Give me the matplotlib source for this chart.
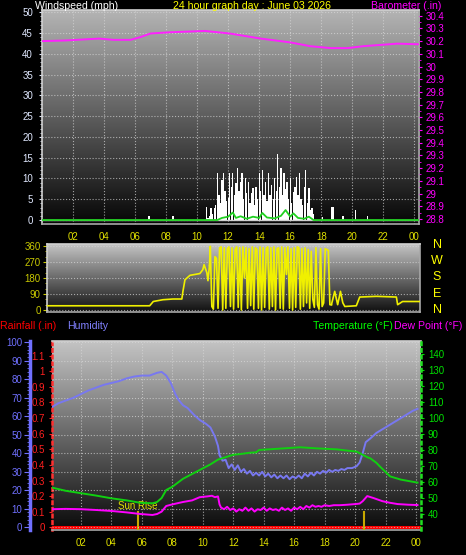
import matplotlib
matplotlib.use("Agg")
import matplotlib.pyplot as plt
import matplotlib.ticker as mticker
import matplotlib.transforms as mtrans
from matplotlib.colors import LinearSegmentedColormap
import numpy as np

plt.rcParams['font.family'] = ['Liberation Sans', 'DejaVu Sans']

# ---- data ----
hour_ticks = [2, 4, 6, 8, 10, 12, 14, 16, 18, 20, 22, 24]
hour_labels = ["02", "04", "06", "08", "10", "12", "14", "16", "18", "20", "22", "00"]

baro_hours = [0, 1.5, 3.7, 4.6, 5.7, 6.3, 7.0, 8.3, 10.5, 12.1, 14.1, 16.0, 17.3, 18.6, 19.7, 20.7, 22.9, 24.3]
baro_vals = [30.20, 30.205, 30.22, 30.21, 30.21, 30.23, 30.26, 30.27, 30.28, 30.26, 30.22, 30.19, 30.16,
             30.145, 30.145, 30.16, 30.18, 30.175]

# gusts, sparse part
gust_hours_a = [6.9, 8.45, 18.1, 18.7, 18.8, 19.4, 20.2, 21.0]
gust_vals_a = [1.0, 1.0, 0.8, 3.2, 3.2, 1.0, 2.4, 1.0]
# gusts, busy part 10.5 -> 17.5 every 6 min
gust_vals_b = [0, 3.2, 0.5, 1, 2.9, 1.5, 3, 3.6, 11.2, 6, 4, 9.6, 11.2, 7, 4.5, 5.2, 11.2, 8, 11.2, 6,
               9, 12.4, 7, 9.2, 11.2, 5, 10, 6.5, 9.2, 4, 6.4, 7.6, 3.5, 8, 5, 11.2, 7, 12, 6, 9.2,
               4.5, 11.2, 6, 8.4, 5, 10, 7, 16, 8, 12.4, 6, 11.2, 7.5, 9.2, 5, 10, 4, 6.8, 8, 10.4,
               6, 11.2, 5, 3.5, 8, 12, 4, 7.6, 2.5, 3, 1.5]
gust_hours_b = np.round(10.5 + 0.1 * np.arange(len(gust_vals_b)), 2)

avg_hours = [0, 11.3, 11.6, 12.0, 12.3, 12.5, 12.8, 13.2, 13.6, 14.0, 14.2, 14.5, 15.0, 15.4, 15.7,
             16.0, 16.2, 16.5, 16.9, 17.2, 17.5, 24.3]
avg_vals = [0, 0, 0.5, 0.8, 1.8, 0.5, 0.9, 0.3, 0.8, 0.5, 1.7, 0.6, 0.4, 1.0, 2.4, 0.8, 1.6, 0.5, 0.3,
            0.8, 0, 0]

dir_hours_a = [0.4, 7.0, 7.23, 7.85, 8.5, 9.07, 9.14, 9.27, 9.59, 10.23, 10.42, 10.5, 10.68, 10.75, 10.85]
dir_vals_a = [24, 24, 48, 58, 62, 62, 105, 170, 195, 205, 227, 255, 210, 165, 250]
dir_vals_b = [358, 20, 5, 300, 290, 10, 350, 355, 0, 350, 10, 345, 355, 20, 350, 5, 340, 355, 15, 350,
              0, 355, 180, 350, 10, 345, 25, 355, 5, 350, 340, 10, 355, 0, 350, 15, 345, 355, 5, 350,
              20, 355, 0, 345, 350, 10, 355, 5, 350, 200, 355, 10, 345, 0, 350, 15, 355, 350, 5, 345,
              20, 350, 40, 340, 10, 330, 60, 15, 350, 30, 5, 345, 20, 40, 345, 340, 335, 30]
dir_hours_b = np.round(10.9 + 0.1 * np.arange(len(dir_vals_b)), 2)
dir_hours_c = [18.7, 18.91, 19.1, 19.28, 19.43, 19.56, 20.3, 20.52, 21.6, 22.88, 22.96, 23.28, 24.4]
dir_vals_c = [30, 105, 30, 105, 41, 20, 24, 73, 77, 73, 30, 48, 48]

hum_hours = [0.1, 0.5, 1.0, 1.5, 2.0, 2.5, 3.0, 3.5, 4.0, 4.5, 5.0, 5.5, 6.0, 6.5, 7.0, 7.3, 7.6, 7.9,
             8.2, 8.4, 8.7, 9.0, 9.4, 9.8, 10.2, 10.5, 10.8, 11.0, 11.1, 11.3, 11.5, 11.7, 11.9, 12.1,
             12.3, 12.5, 12.7, 12.9, 13.1, 13.3, 13.5, 13.7, 13.9, 14.1, 14.3, 14.5, 14.7, 14.9, 15.1,
             15.3, 15.5, 15.7, 15.9, 16.1, 16.3, 16.5, 16.7, 16.9, 17.1, 17.3, 17.5, 17.7, 17.9, 18.1,
             18.3, 18.5, 18.7, 18.9, 19.1, 19.3, 19.5, 19.8, 20.1, 20.3, 20.5, 20.7, 21.0, 21.4, 21.8,
             22.2, 22.6, 23.0, 23.4, 23.8, 24.1]
hum_vals = [65, 67, 68.5, 70, 72, 74, 75.5, 77, 78, 79, 80.5, 81.5, 82, 82, 83.5, 84, 82, 78,
            72, 69, 66, 64.5, 61, 58, 56, 54, 49, 44, 39, 36, 36.5, 32, 34, 31,
            33.5, 30, 31.5, 29, 30.5, 28, 29.5, 28, 30, 27.5, 29, 27, 28.5, 26.5, 28,
            26.5, 28, 26, 27.5, 26.5, 28, 26.5, 29, 27.5, 29.5, 28, 30, 29, 30.5, 29.5,
            31, 30, 31, 30.5, 31.5, 31, 32, 32, 33, 35, 40, 46, 48, 51, 53,
            55, 57, 59, 61, 63, 64]

temp_hours = [0.1, 1, 2, 3, 4, 5, 5.9, 6.7, 7.0, 7.3, 7.6, 8.0, 8.7, 9.4, 10.0, 10.5, 11.0, 11.5, 12.0,
              12.5, 13.1, 13.5, 13.7, 14.5, 15.3, 16.4, 17.5, 18.8, 19.5, 20.1, 20.5, 20.8, 21.0, 21.4,
              21.6, 22.3, 23.0, 24.1]
temp_vals = [56.5, 54.5, 53, 51.5, 49.8, 48.5, 47, 46.7, 47.5, 50, 55, 57, 62, 65.5, 68.5, 71, 74, 75.5,
             77, 77.5, 78.3, 78.5, 80, 80.5, 81, 81.7, 81, 80.4, 79.6, 79, 77, 75.5, 74.8, 72,
             70, 63.5, 61.5, 59.6]

dew_hours = [0.1, 1, 2, 3, 4, 5, 5.9, 6.7, 7.0, 7.3, 7.6, 8.0, 8.7, 9.3, 9.8, 10.3, 10.6, 10.8, 11.0,
             11.1, 11.2, 11.4, 11.6, 11.8, 12.0, 12.2, 12.4, 12.6, 12.8, 13.0, 13.2, 13.4, 13.6, 13.8,
             14.0, 14.2, 14.4, 14.6, 14.8, 15.0, 15.2, 15.4, 15.6, 15.8, 16.0, 16.2, 16.4, 16.6, 16.8,
             17.0, 17.2, 17.4, 17.6, 17.8, 18.0, 18.3, 18.6, 19.0, 19.5, 20.0, 20.3, 20.5, 20.8, 21.2,
             21.8, 22.3, 22.8, 23.5, 24.1]
dew_vals = [43, 43.2, 43, 42.5, 41.9, 41, 40, 39.4, 40, 41.5, 45, 46, 47.5, 48.5, 50.5, 51, 51.4, 50.5,
            51, 46, 44, 43, 44.5, 42.5, 43.5, 41.5, 43, 42, 44, 42, 43.5, 41.5, 43, 42.5,
            44, 42, 43.5, 42.5, 43, 42, 44, 42.5, 43.5, 42, 44, 43, 44.5, 43, 45,
            44, 45.5, 44.5, 45, 44.5, 45.5, 45, 45.5, 45.5, 45.8, 46.2, 46.5, 48, 51.2, 50,
            48, 47, 46.2, 45.8, 45.6]

rain_hours = [0.1, 24.3]
rain_vals = [0, 0]

sunrise = 5.75
sunset = 20.58

# ---- layout helpers ----
W, H = 466, 555
fig = plt.figure(figsize=(W / 100, H / 100), dpi=100, facecolor='black')


def rect(x0, y0, x1, y1):
    return [x0 / W, 1 - y1 / H, (x1 - x0) / W, (y1 - y0) / H]


def put(x, y, s, c, size=7.6, **kw):
    fig.text(x / W, 1 - y / H, s, color=c, va='center', fontsize=size, **kw)


def backdrop(ax, top, bottom):
    g = np.linspace(0, 1, 256).reshape(-1, 1)
    cm = LinearSegmentedColormap.from_list('bg', [bottom, top])
    ax.imshow(g, extent=[0, 1, 0, 1], transform=ax.transAxes, origin='lower',
              aspect='auto', cmap=cm, zorder=0)


def frame(ax, col='#a8a8a8'):
    for s in ax.spines.values():
        s.set_color(col)
        s.set_linewidth(1.2)
    ax.spines['left'].set_color('#d0d0d0')
    ax.spines['top'].set_color('#d0d0d0')


grid_kw = dict(color='#d8d8d8', linestyle=':', linewidth=0.8, alpha=0.7)

# ---- panel 1: wind + barometer ----
ax1 = fig.add_axes(rect(42, 10, 419, 224))
backdrop(ax1, '#b4b4b4', '#060606')
ax1.bar(gust_hours_a, gust_vals_a, width=0.085, color='white', zorder=3)
ax1.bar(gust_hours_b, gust_vals_b, width=0.085, color='white', zorder=3)
ax1.axhline(0, color='#d0d0d0', lw=1, zorder=3)
ax1.plot(avg_hours, avg_vals, color='#20d020', lw=1.3, zorder=4)
ax1.set_xlim(0, 24.3)
ax1.set_ylim(-0.96, 50.55)
ax1.set_yticks(range(0, 51, 5))
ax1.yaxis.set_minor_locator(mticker.MultipleLocator(1))
ax1.set_xticks(hour_ticks)
ax1.set_xticklabels(hour_labels)
ax1.tick_params(axis='x', colors='#e0e000', labelsize=7, length=0, pad=6)
ax1.tick_params(axis='y', which='both', colors='#e0e8ff', labelsize=7, length=2.5, pad=4)
ax1.tick_params(axis='y', which='minor', length=1.5)
ax1.grid(True, **grid_kw)
frame(ax1)

ax1b = ax1.twinx()
ax1b.plot(baro_hours, baro_vals, color='#ff20ff', lw=1.4)
ax1b.set_ylim(28.76, 30.445)
bt = np.round(np.arange(28.8, 30.41, 0.1), 1)
ax1b.set_yticks(bt)
ax1b.set_yticklabels([f"{v:g}" for v in bt])
ax1b.yaxis.set_minor_locator(mticker.MultipleLocator(0.05))
ax1b.tick_params(axis='y', which='both', colors='#ff00ff', labelsize=7, length=2.5, pad=2)
ax1b.tick_params(axis='y', which='minor', length=1.5)
for s in ax1b.spines.values():
    s.set_visible(False)

put(35, 6, "Windspeed (mph)", 'white')
put(252, 6, "24 hour graph day : June 03 2026", '#ffff00', ha='center')
put(441, 6, "Barometer (.in)", '#ff00ff', ha='right')

# ---- panel 2: wind direction ----
ax2 = fig.add_axes(rect(47, 244, 420, 312))
backdrop(ax2, '#c4c4c4', '#101010')
ax2.plot(dir_hours_a, dir_vals_a, color='#f0f000', lw=1.2, zorder=3)
ax2.plot(np.r_[dir_hours_a[-1], dir_hours_b, dir_hours_c[0]],
         np.r_[dir_vals_a[-1], dir_vals_b, dir_vals_c[0]], color='#f0f000', lw=1.2, zorder=3)
ax2.plot(dir_hours_c, dir_vals_c, color='#f0f000', lw=1.2, zorder=3)
ax2.set_xlim(0.39, 24.4)
ax2.set_ylim(-11, 371)
ax2.set_yticks(range(0, 361, 90))
ax2.yaxis.set_minor_locator(mticker.MultipleLocator(30))
ax2.set_xticks([])
ax2.tick_params(axis='y', which='both', colors='#c8c800', labelsize=7, length=3, pad=1.5)
ax2.tick_params(axis='y', which='minor', length=1.5)
ax2.grid(True, axis='y', **grid_kw)
frame(ax2)
for i, lab in enumerate(["N", "W", "S", "E", "N"]):
    put(437, 245 + 16.2 * i, lab, '#ffff00', size=9, ha='center')

# ---- panel 3: rain / humidity / temperature / dew point ----
ax3 = fig.add_axes(rect(52, 341, 421, 530))
backdrop(ax3, '#c4c4c4', '#0a0a0a')
ax3.plot(rain_hours, rain_vals, color='#ff0000', lw=2.2, zorder=3)
ax3.set_xlim(0.1, 24.33)
ax3.set_ylim(-0.017, 1.194)
rt = np.round(np.arange(0, 1.11, 0.1), 1)
ax3.set_yticks(rt)
ax3.set_yticklabels([f"{v:g}" for v in rt])
ax3.yaxis.set_minor_locator(mticker.MultipleLocator(0.05))
ax3.set_xticks(hour_ticks)
ax3.set_xticklabels(hour_labels)
ax3.tick_params(axis='x', colors='#e0e000', labelsize=7, length=0, pad=5.5)
ax3.tick_params(axis='y', which='both', colors='#ff2020', labelsize=7, length=2, pad=3)
ax3.tick_params(axis='y', which='minor', length=1)
ax3.grid(True, axis='x', **grid_kw)
frame(ax3)
ax3.spines['left'].set_color('#ff3030')
ax3.spines['left'].set_linestyle(':')
ax3.spines['left'].set_linewidth(1.8)
ax3.spines['right'].set_visible(False)

mark = mtrans.blended_transform_factory(ax3.transData, ax3.transAxes)
for h in (sunrise, sunset):
    ax3.axvline(h, ymin=0, ymax=0.095, color='#c8a800', lw=1.5, zorder=4)
ax3.text(sunrise, 0.1, "Sun Rise", transform=mark, ha='center', va='bottom',
         color='#e0e000', fontsize=7, zorder=5)

ax3h = ax3.twinx()
ax3h.yaxis.set_label_position('left')
ax3h.yaxis.tick_left()
ax3h.plot(hum_hours, hum_vals, color='#7878f0', lw=1.4)
ax3h.set_ylim(-1.46, 100.7)
ax3h.set_yticks(range(0, 101, 10))
ax3h.yaxis.set_minor_locator(mticker.MultipleLocator(2))
ax3h.tick_params(axis='y', which='both', colors='#7070ff', labelsize=7, length=4.5, pad=1)
ax3h.tick_params(axis='y', which='minor', length=2)
ax3h.grid(True, axis='y', **grid_kw)
ax3h.yaxis.get_gridlines()[0].set_visible(False)
for k, s in ax3h.spines.items():
    s.set_visible(k == 'left')
ax3h.spines['left'].set_position(('axes', (30 - 52) / 369))
ax3h.spines['left'].set_color('#7070ff')
ax3h.spines['left'].set_linewidth(2.5)

ax3t = ax3.twinx()
ax3t.plot(temp_hours, temp_vals, color='#10d010', lw=1.4)
ax3t.plot(dew_hours, dew_vals, color='#ff00ff', lw=1.4)
ax3t.set_ylim(30, 148.1)
ax3t.set_yticks(range(40, 141, 10))
ax3t.tick_params(axis='y', colors='#00e000', labelsize=7, length=2, pad=3)
for k, s in ax3t.spines.items():
    s.set_visible(k == 'right')
ax3t.spines['right'].set_color('#20e020')
ax3t.spines['right'].set_linestyle(':')
ax3t.spines['right'].set_linewidth(1.8)

put(0, 326, "Rainfall (.in)", '#ff0000')
put(67, 326, "Humidity", '#8080ff')
put(313, 326, "Temperature (°F)", '#00ff00')
put(394, 326, "Dew Point (°F)", '#ff00ff')

fig.savefig("out.png", dpi=100, facecolor='black')
